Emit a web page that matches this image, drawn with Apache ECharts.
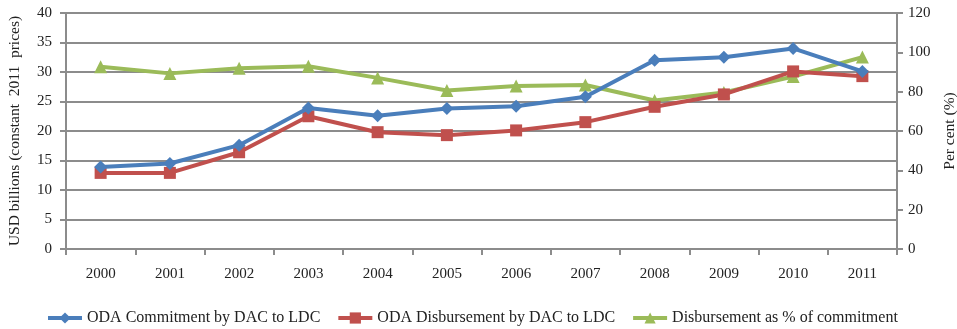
<!DOCTYPE html>
<html>
<head>
<meta charset="utf-8">
<script src="https://cdn.jsdelivr.net/npm/echarts@6/dist/echarts.min.js"></script>
<style>html,body{margin:0;padding:0;background:#fff}#c{width:957px;height:329px}</style>
</head>
<body>
<div id="c"></div>
<script>
const categories = ['2000','2001','2002','2003','2004','2005','2006','2007','2008','2009','2010','2011'];
const commitment = [13.9, 14.5, 17.6, 23.9, 22.6, 23.8, 24.2, 25.8, 32.0, 32.5, 34.0, 30.1];
const disbursement = [12.9, 12.9, 16.4, 22.5, 19.8, 19.3, 20.1, 21.5, 24.1, 26.2, 30.1, 29.3];
const percentOfCommitment = [92.7, 89.3, 91.9, 92.9, 87.0, 80.6, 82.9, 83.4, 75.5, 79.6, 87.7, 97.6];
const leftTicks = [0,5,10,15,20,25,30,35,40];
const rightTicks = [0,20,40,60,80,100,120];

const font = 'Liberation Serif, Times New Roman, serif';
const axisGray = '#8c8c8c';
const chart = echarts.init(document.getElementById('c'));
chart.setOption({
  animation: false,
  textStyle: {fontFamily: font},
  grid: {left: 66, right: 60, top: 13, bottom: 80, containLabel: false, outerBoundsMode: 'none'},
  legend: {
    top: 305, left: 41, itemWidth: 34, itemHeight: 14, itemGap: 16,
    lineStyle: {width: 4},
    textStyle: {fontFamily: font, fontSize: 16, color: '#222'},
    data: ['ODA Commitment by DAC to LDC', 'ODA Disbursement by DAC to LDC', 'Disbursement as % of commitment']
  },
  xAxis: {
    type: 'category', data: categories, boundaryGap: true,
    axisLine: {lineStyle: {color: axisGray, width: 2}},
    axisTick: {show: true, length: 6, lineStyle: {color: axisGray, width: 2}, interval: 0},
    axisLabel: {color: '#222', fontSize: 15, fontFamily: font, margin: 18, interval: 0}
  },
  yAxis: [
    {
      type: 'value', min: 0, max: 40, interval: 5, position: 'left',
      name: 'USD billions (constant  2011  prices)', nameLocation: 'middle', nameGap: 43, nameRotate: 90,
      nameTextStyle: {fontFamily: font, fontSize: 15.5, color: '#222'},
      axisLine: {show: true, lineStyle: {color: axisGray, width: 2}},
      axisTick: {show: true, length: 6, lineStyle: {color: axisGray, width: 2}},
      axisLabel: {color: '#222', fontSize: 15, fontFamily: font, margin: 14,
        formatter: v => leftTicks.includes(v) ? String(v) : ''},
      splitLine: {show: true, lineStyle: {color: axisGray, width: 2}}
    },
    {
      type: 'value', min: 0, max: 120, interval: 20, position: 'right',
      name: 'Per cent (%)', nameLocation: 'middle', nameGap: 45, nameRotate: 90,
      nameTextStyle: {fontFamily: font, fontSize: 15.5, color: '#222'},
      axisLine: {show: true, lineStyle: {color: axisGray, width: 2}},
      axisTick: {show: true, length: 6, lineStyle: {color: axisGray, width: 2}},
      axisLabel: {color: '#222', fontSize: 15, fontFamily: font, margin: 11,
        formatter: v => rightTicks.includes(v) ? String(v) : ''},
      splitLine: {show: false}
    }
  ],
  series: [
    {
      name: 'Disbursement as % of commitment', type: 'line', yAxisIndex: 1, data: percentOfCommitment,
      symbol: 'triangle', symbolSize: 13, z: 2,
      lineStyle: {color: '#9bbb59', width: 4}, itemStyle: {color: '#9bbb59'}
    },
    {
      name: 'ODA Disbursement by DAC to LDC', type: 'line', yAxisIndex: 0, data: disbursement,
      symbol: 'rect', symbolSize: 12, z: 3,
      lineStyle: {color: '#c0504d', width: 4}, itemStyle: {color: '#c0504d'}
    },
    {
      name: 'ODA Commitment by DAC to LDC', type: 'line', yAxisIndex: 0, data: commitment,
      symbol: 'diamond', symbolSize: 13, z: 4,
      lineStyle: {color: '#4a7ebb', width: 4}, itemStyle: {color: '#4a7ebb'}
    }
  ]
});
</script>
</body>
</html>
